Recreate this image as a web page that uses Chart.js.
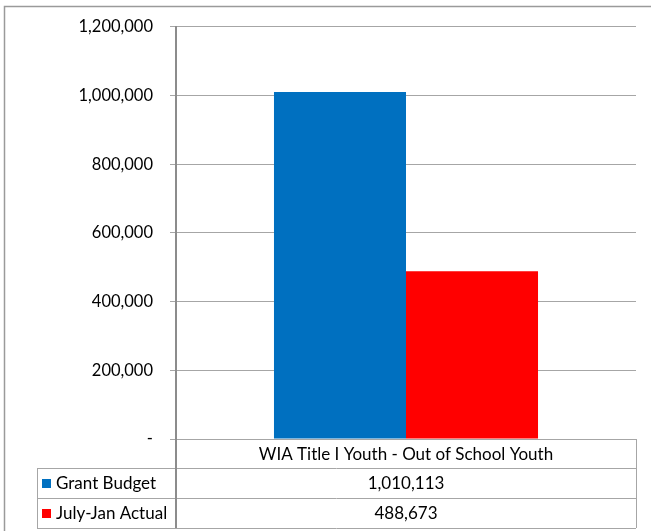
<!DOCTYPE html>
<html>
<head>
<meta charset="utf-8">
<script src="https://cdn.jsdelivr.net/npm/chart.js@4.4.0/dist/chart.umd.min.js"></script>
<style>
  html, body { margin: 0; padding: 0; background: #fff; }
  #wrap { width: 651px; height: 531px; position: relative; }
</style>
</head>
<body>
<div id="wrap"><canvas id="budgetChart" width="651" height="531"></canvas></div>
<script>
const categories = ['WIA Title I Youth - Out of School Youth'];
const seriesNames = ['Grant Budget', 'July-Jan Actual'];
const grantBudget = [1010113];
const julyJanActual = [488673];
const seriesColors = ['#0070C0', '#FF0000'];
const yTicks = [0, 200000, 400000, 600000, 800000, 1000000, 1200000];

const FONT = 'Lato, "Open Sans", sans-serif';
const GRID = '#a6a6a6';

function fmt(v) {
  return v === 0 ? '-' : v.toLocaleString('en-US');
}

// frame + data table under the plot, drawn from the scales
const tablePlugin = {
  id: 'dataTable',
  beforeDraw(chart) {
    const ctx = chart.ctx;
    ctx.save();
    ctx.strokeStyle = '#9a9a9a';
    ctx.lineWidth = 1.5;
    ctx.beginPath();
    ctx.moveTo(4.5, chart.height);
    ctx.lineTo(4.5, 6.5);
    ctx.lineTo(chart.width, 6.5);
    ctx.stroke();
    ctx.restore();
  },
  afterDraw(chart) {
    const ctx = chart.ctx;
    const area = chart.chartArea;
    const xs = chart.scales.x;
    const left = 37, top = area.bottom;
    const rowH = [29, 30, 30];
    const y1 = top + rowH[0], y2 = y1 + rowH[1], y3 = y2 + rowH[2];
    ctx.save();
    ctx.strokeStyle = GRID;
    ctx.lineWidth = 1;
    ctx.beginPath();
    ctx.moveTo(area.left, top + 0.5); ctx.lineTo(area.right, top + 0.5);
    [y1, y2, y3].forEach(y => { ctx.moveTo(left, y + 0.5); ctx.lineTo(area.right, y + 0.5); });
    ctx.moveTo(left + 0.5, y1); ctx.lineTo(left + 0.5, y3);
    ctx.moveTo(area.right + 0.5, top); ctx.lineTo(area.right + 0.5, y3);
    ctx.stroke();
    ctx.lineWidth = 2;
    ctx.strokeStyle = '#8c8c8c';
    ctx.beginPath();
    ctx.moveTo(area.left, top); ctx.lineTo(area.left, y3);
    ctx.stroke();

    ctx.fillStyle = '#000';
    ctx.font = '17px ' + FONT;
    ctx.textBaseline = 'middle';
    ctx.textAlign = 'center';
    categories.forEach((c, i) => {
      const cx = xs.getPixelForValue(i);
      ctx.fillText(c, cx, top + rowH[0] / 2 + 1);
      ctx.fillText(fmt(grantBudget[i]), cx, y1 + rowH[1] / 2 + 1);
      ctx.fillText(fmt(julyJanActual[i]), cx, y2 + rowH[2] / 2 + 1);
    });
    ctx.textAlign = 'left';
    seriesNames.forEach((name, i) => {
      const yc = (i === 0 ? y1 + rowH[1] / 2 : y2 + rowH[2] / 2) + 1;
      ctx.fillStyle = seriesColors[i];
      ctx.fillRect(left + 5, yc - 5, 9, 9);
      ctx.fillStyle = '#000';
      ctx.fillText(name, left + 19, yc);
    });
    ctx.restore();
  }
};

new Chart(document.getElementById('budgetChart'), {
  type: 'bar',
  data: {
    labels: categories,
    datasets: [
      { label: seriesNames[0], data: grantBudget, backgroundColor: seriesColors[0] },
      { label: seriesNames[1], data: julyJanActual, backgroundColor: seriesColors[1] }
    ]
  },
  options: {
    responsive: false,
    animation: false,
    devicePixelRatio: 1,
    categoryPercentage: 0.574,
    barPercentage: 1,
    layout: { padding: { left: 0, right: 15, top: 18, bottom: 92 } },
    plugins: { legend: { display: false }, tooltip: { enabled: false } },
    scales: {
      x: {
        display: false,
        grid: { display: false }
      },
      y: {
        min: 0,
        max: 1200000,
        afterBuildTicks(scale) { scale.ticks = yTicks.map(v => ({ value: v })); },
        afterFit(scale) { scale.width = 176; },
        ticks: {
          color: '#000',
          padding: 17,
          font: { family: FONT, size: 16.5 },
          callback: v => fmt(v)
        },
        grid: { color: GRID, lineWidth: 1, tickLength: 6, drawTicks: true },
        border: { color: '#8c8c8c', width: 2 }
      }
    }
  },
  plugins: [tablePlugin]
});
</script>
</body>
</html>
